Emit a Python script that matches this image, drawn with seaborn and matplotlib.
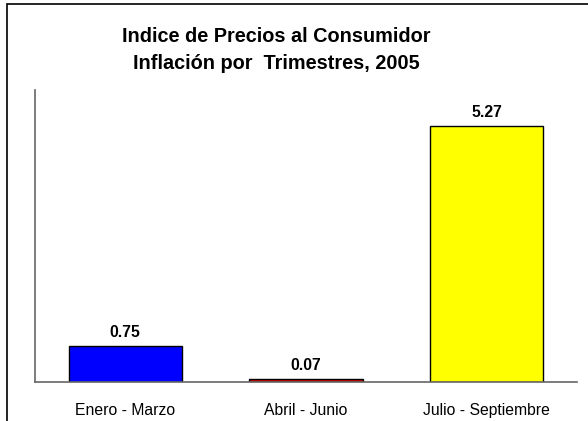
import matplotlib
matplotlib.use("Agg")
import matplotlib.pyplot as plt
import seaborn as sns
import pandas as pd
from matplotlib.patches import Rectangle

# data
trimestres = ["Enero - Marzo", "Abril - Junio", "Julio - Septiembre"]
inflacion = [0.75, 0.07, 5.27]
colores = ["#0000ff", "#cc0000", "#ffff00"]

df = pd.DataFrame({"Trimestre": trimestres, "Inflacion": inflacion})

sns.set_style("white")
plt.rcParams['font.family'] = ['Liberation Sans', 'DejaVu Sans']
plt.rcParams['text.color'] = 'black'
plt.rcParams['xtick.color'] = 'black'

fig = plt.figure(figsize=(5.88, 4.21), dpi=100)
ax = fig.add_axes([0.0595, 0.0926, 0.9215, 0.6934])

sns.barplot(data=df, x="Trimestre", y="Inflacion", hue="Trimestre",
            palette=colores, legend=False, width=0.627,
            edgecolor="black", linewidth=1, ax=ax, saturation=1)

ax.set_ylim(0, 6)
ax.set_xlim(-0.5, 2.5)
ax.set_yticks([])
ax.set_xlabel("")
ax.set_ylabel("")
ax.tick_params(axis="x", length=0, pad=15, labelsize=11.3, labelcolor="black")

for s in ["top", "right"]:
    ax.spines[s].set_visible(False)
for s in ["left", "bottom"]:
    ax.spines[s].set_color("#666666")
    ax.spines[s].set_linewidth(1.2)

for i, v in enumerate(inflacion):
    ax.text(i, v + 0.12, f"{v:.2f}", ha="center", va="bottom",
            fontsize=11.3, fontweight="bold", color="black")

fig.text(0.470, 0.914, "Indice de Precios al Consumidor", ha="center", va="center",
         fontsize=14.3, fontweight="bold", color="black")
fig.text(0.470, 0.850, "Inflación por  Trimestres, 2005", ha="center", va="center",
         fontsize=14.3, fontweight="bold", color="black")

# outer chart frame (right and bottom edges fall outside the picture)
fig.patches.append(Rectangle((0.012, -0.05), 1.1, 1.0405, transform=fig.transFigure,
                             fill=False, edgecolor="black", linewidth=1.2))

fig.savefig("out.png", dpi=100)
